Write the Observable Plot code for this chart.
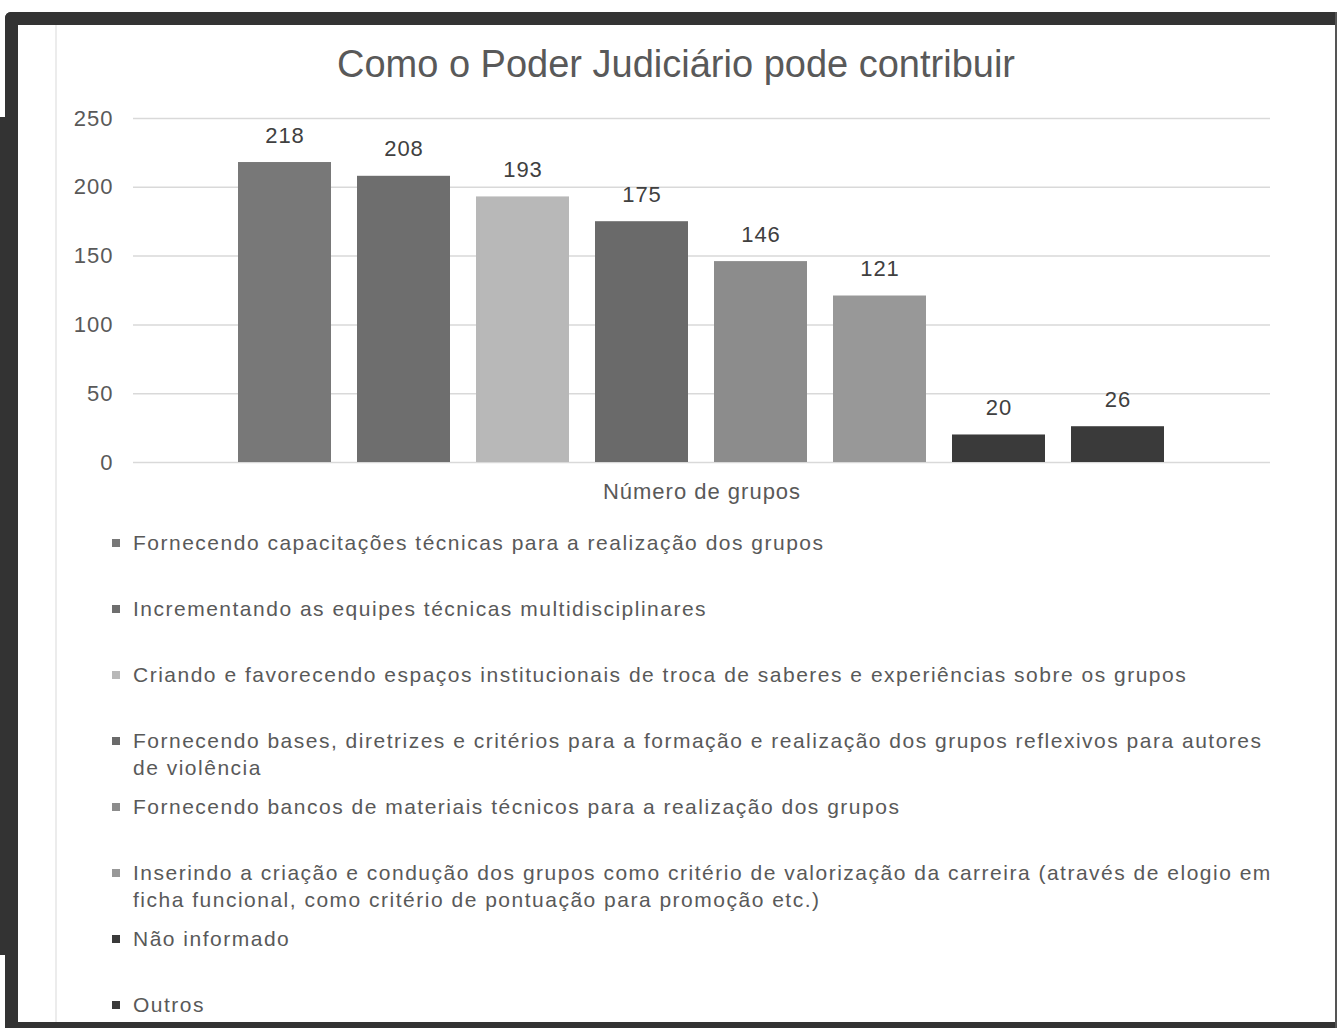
<!DOCTYPE html>
<html>
<head>
<meta charset="utf-8">
<script src="https://cdn.jsdelivr.net/npm/d3@7"></script>
<script src="https://cdn.jsdelivr.net/npm/@observablehq/plot@0.6"></script>
<style>
  html, body { margin: 0; padding: 0; background: #fff; }
  #page { position: relative; width: 1337px; height: 1028px; overflow: hidden; background: #fff; font-family: "Liberation Sans", Arial, sans-serif; }
  .dark { position: absolute; background: #333; }
  #title { position: absolute; left: 0; width: 1352px; top: 43px; text-align: center; font-size: 38px; color: #595959; white-space: nowrap; }
  #chart { position: absolute; left: 0; top: 100px; }
  #chart svg text { letter-spacing: 1px; }
  #legend { position: absolute; left: 0; top: 529px; width: 1337px; }
  .item { position: relative; height: 66px; }
  .swatch { position: absolute; left: 112px; top: 10px; width: 8px; height: 8px; }
  .ltext { position: absolute; left: 133px; top: 0; width: 1150px; font-size: 21px; letter-spacing: 1.5px; line-height: 27px; color: #595959; }
</style>
</head>
<body>
<div id="page">
  <div class="dark" style="left:5px;top:12px;width:1332px;height:13px;border-top-left-radius:6px;"></div>
  <div class="dark" style="left:5px;top:12px;width:13px;height:1016px;border-top-left-radius:6px;"></div>
  <div class="dark" style="left:0;top:117px;width:18px;height:838px;"></div>
  <div class="dark" style="left:5px;top:1022px;width:1332px;height:6px;"></div>
  <div class="dark" style="left:1335px;top:12px;width:2px;height:1016px;background:#555;"></div>
  <div style="position:absolute;left:55px;top:25px;width:2px;height:997px;background:#ececec;"></div>
  <div id="title"></div>
  <div id="chart"></div>
  <div id="legend"></div>
</div>
<script>
const title = "Como o Poder Judiciário pode contribuir";
const axisLabel = "Número de grupos";
const categories = [
  "Fornecendo capacitações técnicas para a realização dos grupos",
  "Incrementando as equipes técnicas multidisciplinares",
  "Criando e favorecendo espaços institucionais de troca de saberes e experiências sobre os grupos",
  "Fornecendo bases, diretrizes e critérios para a formação e realização dos grupos reflexivos para autores de violência",
  "Fornecendo bancos de materiais técnicos para a realização dos grupos",
  "Inserindo a criação e condução dos grupos como critério de valorização da carreira (através de elogio em ficha funcional, como critério de pontuação para promoção etc.)",
  "Não informado",
  "Outros"
];
const values = [218, 208, 193, 175, 146, 121, 20, 26];
const colors = ["#787878", "#6e6e6e", "#b8b8b8", "#6a6a6a", "#8c8c8c", "#989898", "#3a3a3a", "#3a3a3a"];
const yTicks = [0, 50, 100, 150, 200, 250];

const data = categories.map((c, i) => ({category: c, value: values[i], color: colors[i]}));

document.getElementById("title").textContent = title;

const chart = Plot.plot({
  width: 1337,
  height: 410,
  marginLeft: 133,
  marginRight: 67,
  marginTop: 18,
  marginBottom: 48,
  style: {fontFamily: "Liberation Sans, Arial, sans-serif", color: "#595959", background: "transparent"},
  x: {domain: categories, padding: 0.222, insetLeft: 76, insetRight: 78, axis: null},
  y: {domain: [0, 250], ticks: yTicks, label: null, tickSize: 0, tickPadding: 21, tickFormat: d => d},
  color: {type: "identity"},
  marks: [
    Plot.ruleY(yTicks, {stroke: "#d9d9d9", strokeWidth: 1.5}),
    Plot.axisY({ticks: yTicks, tickSize: 0, tickPadding: 20, fontSize: 22, fill: "#595959", label: null}),
    Plot.barY(data, {x: "category", y: "value", fill: "color"}),
    Plot.text(data, {x: "category", y: "value", text: d => String(d.value), dy: -27, fontSize: 22, fill: "#404040"}),
    Plot.text([axisLabel], {frameAnchor: "bottom", text: d => d, dy: 36, fontSize: 22, fill: "#595959"})
  ]
});
document.getElementById("chart").appendChild(chart);

const legend = document.getElementById("legend");
data.forEach(d => {
  const item = document.createElement("div");
  item.className = "item";
  const sw = document.createElement("div");
  sw.className = "swatch";
  sw.style.background = d.color;
  const tx = document.createElement("div");
  tx.className = "ltext";
  tx.textContent = d.category;
  item.appendChild(sw);
  item.appendChild(tx);
  legend.appendChild(item);
});
</script>
</body>
</html>
